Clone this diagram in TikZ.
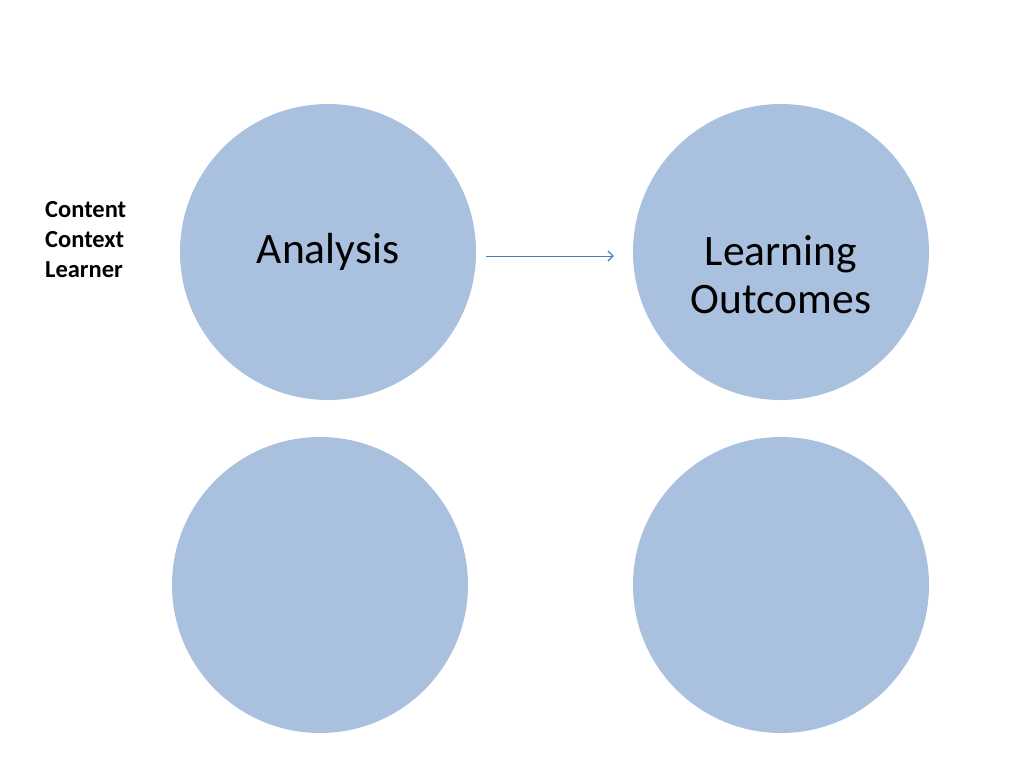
\documentclass[tikz,border=0pt]{standalone}
\usepackage{fontspec}
\setmainfont{Carlito}
\usetikzlibrary{arrows.meta}
\definecolor{circfill}{HTML}{A9C1DF}
\definecolor{arrowcol}{HTML}{4A7EBB}
\tikzset{
  bubble/.style={circle, fill=circfill, draw=none, minimum size=296pt, inner sep=0pt},
  bigtext/.style={font=\fontsize{43.5}{48}\selectfont, align=center, inner sep=0pt, text=black},
  sidetext/.style={font=\fontsize{24.5}{30}\selectfont\bfseries, align=left, inner sep=0pt, text=black},
  flow/.style={draw=arrowcol, line width=1pt, -{Straight Barb[length=5pt,width=10pt,line width=1.2pt]}}
}
\begin{document}
\begin{tikzpicture}[x=1pt,y=-1pt]
\useasboundingbox (0,0) rectangle (1024,768);
\node[bubble] (A) at (328,252) {};
\node[bubble] (L) at (781,252) {};
\node[bubble] (C) at (320,585) {};
\node[bubble] (D) at (781,585) {};
\node[bigtext, anchor=base] (At) at (328,263) {Analysis};
\node[bigtext, anchor=base] (Lt) at (781,313) {Learning\\Outcomes};
\node[sidetext, anchor=base west] (S) at (45,277) {Content\\Context\\Learner};
\draw[flow] ([yshift=-4pt,xshift=10pt]A.east) -- ([yshift=-4pt,xshift=-19pt]L.west);
\end{tikzpicture}
\end{document}
